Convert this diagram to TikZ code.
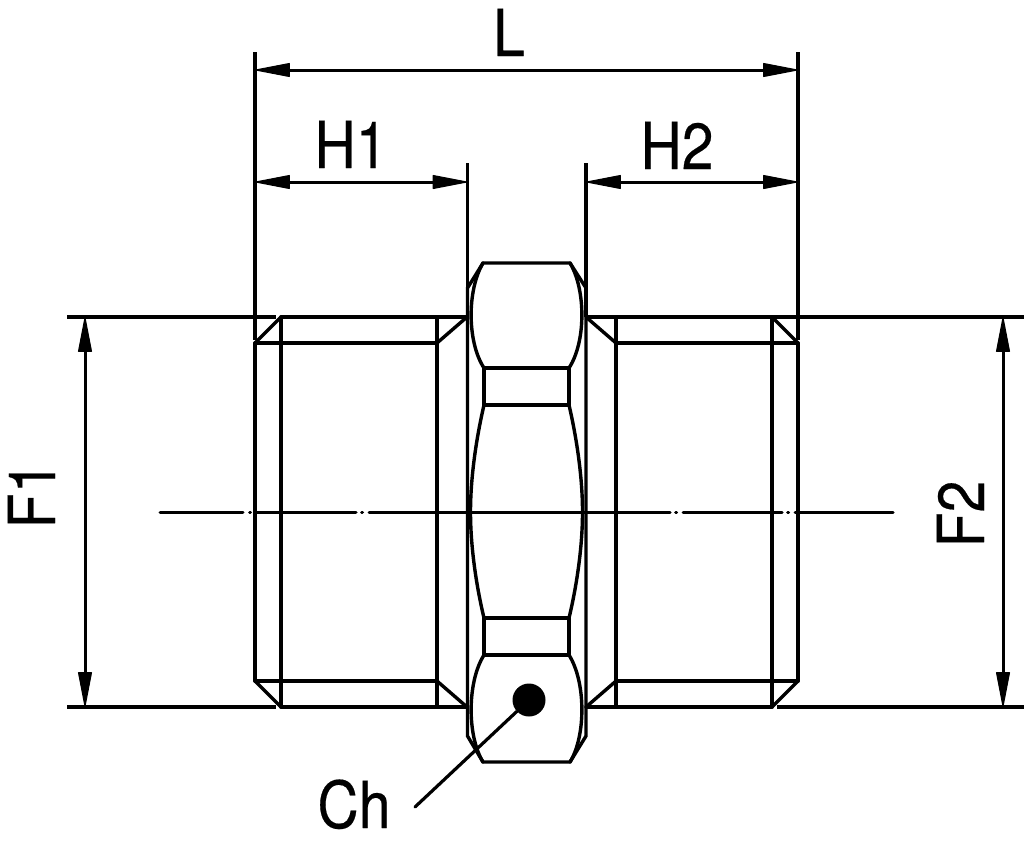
\documentclass[tikz,border=0pt]{standalone}
\usepackage{fontspec}
\setmainfont[FakeStretch=0.88, FakeBold=0.3]{TeX Gyre Heros}
\usetikzlibrary{arrows.meta}

\begin{document}
\begin{tikzpicture}[
    x=1pt, y=-1pt,
    >={Triangle[length=37pt, width=14pt, line width=1pt, round]},
    part/.style={draw=black, line width=3.4pt, line cap=round},
    thin part/.style={draw=black, line width=3.2pt},
    axis/.style={draw=black, line width=3pt, line cap=round},
    dimline/.style={<->, draw=black, line width=3pt},
    dimtext/.style={inner sep=0pt, anchor=base, font=\fontsize{65}{65}\selectfont},
    port/.style={circle, fill=black, inner sep=0pt, minimum size=33pt}
]
\useasboundingbox (0,0) rectangle (1024,860);

% extension lines
\draw[thin part] (255,52) -- (255,340);
\draw[thin part] (798,52) -- (798,340);
\draw[thin part] (467.5,163) -- (467.5,317);
\draw[thin part] (586,163) -- (586,317);
\draw[thin part] (67,317) -- (276,317);
\draw[thin part] (67,707) -- (276,707);
\draw[thin part] (586,317) -- (1024,317);
\draw[thin part] (777,707) -- (1024,707);

% left thread
\draw[part] (255,343) -- (255,681);
\draw[part] (281,317) -- (281,707);
\draw[part] (437,317) -- (437,707);
\draw[part] (281,317) -- (467,317);
\draw[part] (281,707) -- (467,707);
\draw[part] (255,343) -- (437,343);
\draw[part] (255,681) -- (437,681);
\draw[part] (255,343) -- (281,317);
\draw[part] (255,681) -- (281,707);
\draw[part] (437,343) -- (467,317);
\draw[part] (437,681) -- (467,707);

% right thread
\draw[part] (798,343) -- (798,681);
\draw[part] (772,317) -- (772,707);
\draw[part] (616,317) -- (616,707);
\draw[part] (586,707) -- (772,707);
\draw[part] (616,343) -- (798,343);
\draw[part] (616,681) -- (798,681);
\draw[part] (772,317) -- (798,343);
\draw[part] (772,707) -- (798,681);
\draw[part] (586,317) -- (616,343);
\draw[part] (586,707) -- (616,681);

% hexagon
\draw[part] (467.5,288) -- (483,263) -- (570,263) -- (586,288) -- (586,736) -- (570,762) -- (483,762) -- (467.5,736) -- cycle;
\draw[part] (484,368) rectangle (569,405);
\draw[part] (484,618) rectangle (569,655);
\draw[part] (483,263) .. controls (467,290) and (467,342) .. (484,368);
\draw[part] (570,263) .. controls (586,290) and (586,342) .. (569,368);
\draw[part] (484,405) .. controls (477,435) and (470.5,475) .. (470.5,512) .. controls (470.5,549) and (477,589) .. (484,618);
\draw[part] (569,405) .. controls (576,435) and (582.5,475) .. (582.5,512) .. controls (582.5,549) and (576,589) .. (569,618);
\draw[part] (484,655) .. controls (467,682) and (467,736) .. (483,762);
\draw[part] (569,655) .. controls (586,682) and (586,736) .. (570,762);

% centre line
\draw[axis] (160,512) -- (243,512);
\draw[axis] (249.5,512) -- (250.5,512);
\draw[axis] (256,512) -- (356,512);
\draw[axis] (361.5,512) -- (362.5,512);
\draw[axis] (369,512) -- (670,512);
\draw[axis] (675.5,512) -- (676.5,512);
\draw[axis] (683,512) -- (782,512);
\draw[axis] (787.5,512) -- (788.5,512);
\draw[axis] (795,512) -- (893,512);

% dimensions
\coordinate (L1) at (255,70);
\coordinate (L2) at (798,70);
\coordinate (H1a) at (255,182);
\coordinate (H1b) at (467.5,182);
\coordinate (H2a) at (586,182);
\coordinate (H2b) at (798,182);
\coordinate (F1a) at (85,317);
\coordinate (F1b) at (85,707);
\coordinate (F2a) at (1003,317);
\coordinate (F2b) at (1003,707);
\draw[dimline] (L1) -- (L2);
\draw[dimline] (H1a) -- (H1b);
\draw[dimline] (H2a) -- (H2b);
\draw[dimline] (F1a) -- (F1b);
\draw[dimline] (F2a) -- (F2b);

\node[dimtext] (L) at (509,56) {L};
\node[dimtext] (H1) at (351,168) {H1};
\node[dimtext] (H2) at (677,169) {H2};
\node[dimtext, rotate=90] (F1) at (55,495) {F1};
\node[dimtext, rotate=90] (F2) at (984,514) {F2};
\node[dimtext] (Ch) at (354,828) {Ch};

% wrench flat pointer
\node[port] (flat) at (529,700) {};
\coordinate (leader) at (415,807);
\draw[thin part, line cap=round] (leader) -- (flat);

\end{tikzpicture}
\end{document}
